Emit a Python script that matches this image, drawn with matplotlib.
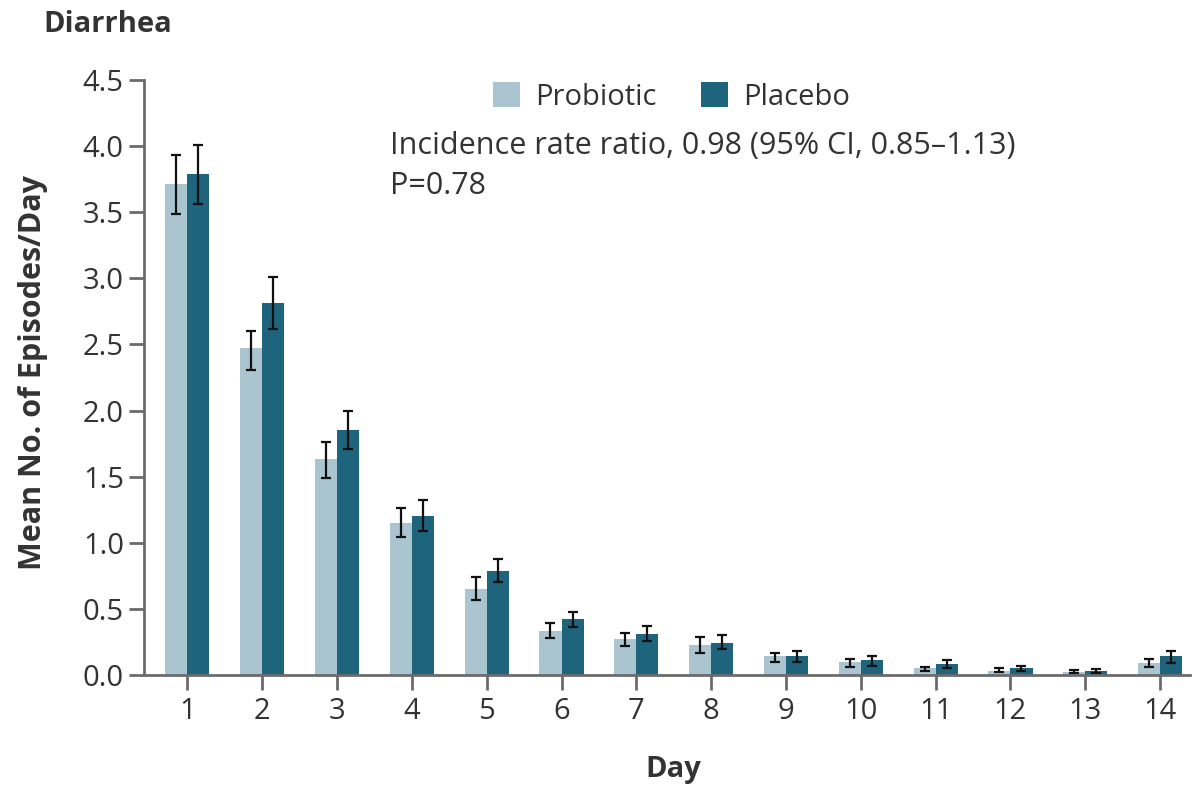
import matplotlib.pyplot as plt
import numpy as np

plt.rcParams['font.family'] = ['Open Sans', 'DejaVu Sans']

days = list(range(1, 15))
probiotic = [3.71, 2.47, 1.63, 1.15, 0.65, 0.33, 0.27, 0.23, 0.14, 0.10, 0.05, 0.03, 0.025, 0.09]
probiotic_lo = [3.49, 2.31, 1.49, 1.04, 0.57, 0.28, 0.22, 0.17, 0.10, 0.06, 0.03, 0.02, 0.015, 0.06]
probiotic_hi = [3.93, 2.60, 1.76, 1.26, 0.74, 0.39, 0.32, 0.29, 0.17, 0.12, 0.06, 0.05, 0.035, 0.12]
placebo = [3.79, 2.81, 1.85, 1.20, 0.79, 0.42, 0.31, 0.24, 0.14, 0.11, 0.08, 0.05, 0.03, 0.14]
placebo_lo = [3.56, 2.62, 1.71, 1.09, 0.70, 0.36, 0.26, 0.20, 0.10, 0.07, 0.05, 0.03, 0.015, 0.09]
placebo_hi = [4.01, 3.01, 2.00, 1.32, 0.88, 0.48, 0.37, 0.30, 0.18, 0.14, 0.11, 0.07, 0.045, 0.18]
y_ticks = [0.0, 0.5, 1.0, 1.5, 2.0, 2.5, 3.0, 3.5, 4.0, 4.5]

light = '#aac4d0'
dark = '#1f647d'
axis_gray = '#6b6b6b'
text_col = '#333333'

W, H = 1192, 789
fig = plt.figure(figsize=(W / 100, H / 100), dpi=100)
ax = fig.add_axes([144 / W, 1 - 675 / H, (1190 - 144) / W, (675 - 80) / H])

x = np.array(days)
w = 0.295
err_p = [np.array(probiotic) - np.array(probiotic_lo), np.array(probiotic_hi) - np.array(probiotic)]
err_c = [np.array(placebo) - np.array(placebo_lo), np.array(placebo_hi) - np.array(placebo)]
ekw = dict(ecolor='#111111', elinewidth=1.6, capsize=3.8, capthick=1.6)
ax.bar(x - w / 2, probiotic, w, color=light, yerr=err_p, error_kw=ekw, label='Probiotic')
ax.bar(x + w / 2, placebo, w, color=dark, yerr=err_c, error_kw=ekw, label='Placebo')

ax.set_xlim(0.42, 14.4)
ax.set_ylim(0, 4.5)
ax.set_xticks(days)
ax.set_yticks(y_ticks)
ax.set_yticklabels([f'{v:.1f}' for v in y_ticks])

for s in ['top', 'right']:
    ax.spines[s].set_visible(False)
for s in ['left', 'bottom']:
    ax.spines[s].set_color(axis_gray)
    ax.spines[s].set_linewidth(2)
ax.tick_params(axis='both', direction='out', length=11, width=2, color=axis_gray,
               labelcolor=text_col)
ax.tick_params(axis='y', labelsize=21, pad=3.5)
ax.tick_params(axis='x', labelsize=21, pad=5)

fig.text(33 / W, 1 - 372 / H, 'Mean No. of Episodes/Day', rotation=90, fontsize=22,
         fontweight='bold', color=text_col, ha='center', va='center')
fig.text(673 / W, 1 - 769 / H, 'Day', fontsize=21, fontweight='bold', color=text_col,
         ha='center', va='center')
fig.text(43 / W, 1 - 25 / H, 'Diarrhea', fontsize=21, fontweight='bold', color=text_col,
         ha='left', va='center')

leg = fig.legend(*ax.get_legend_handles_labels(), loc='center left',
                 bbox_to_anchor=(493 / W, 1 - 97 / H), ncol=2, frameon=False,
                 fontsize=21, handlelength=0.93, handleheight=0.9, columnspacing=1.5,
                 handletextpad=0.52, labelcolor=text_col, borderpad=0, borderaxespad=0)
fig.text(390 / W, 1 - 146 / H, 'Incidence rate ratio, 0.98 (95% CI, 0.85\u20131.13)',
         fontsize=22, color=text_col, va='center')
fig.text(390 / W, 1 - 186 / H, 'P=0.78', fontsize=22, color=text_col, va='center')

fig.savefig('out.png', dpi=100)
